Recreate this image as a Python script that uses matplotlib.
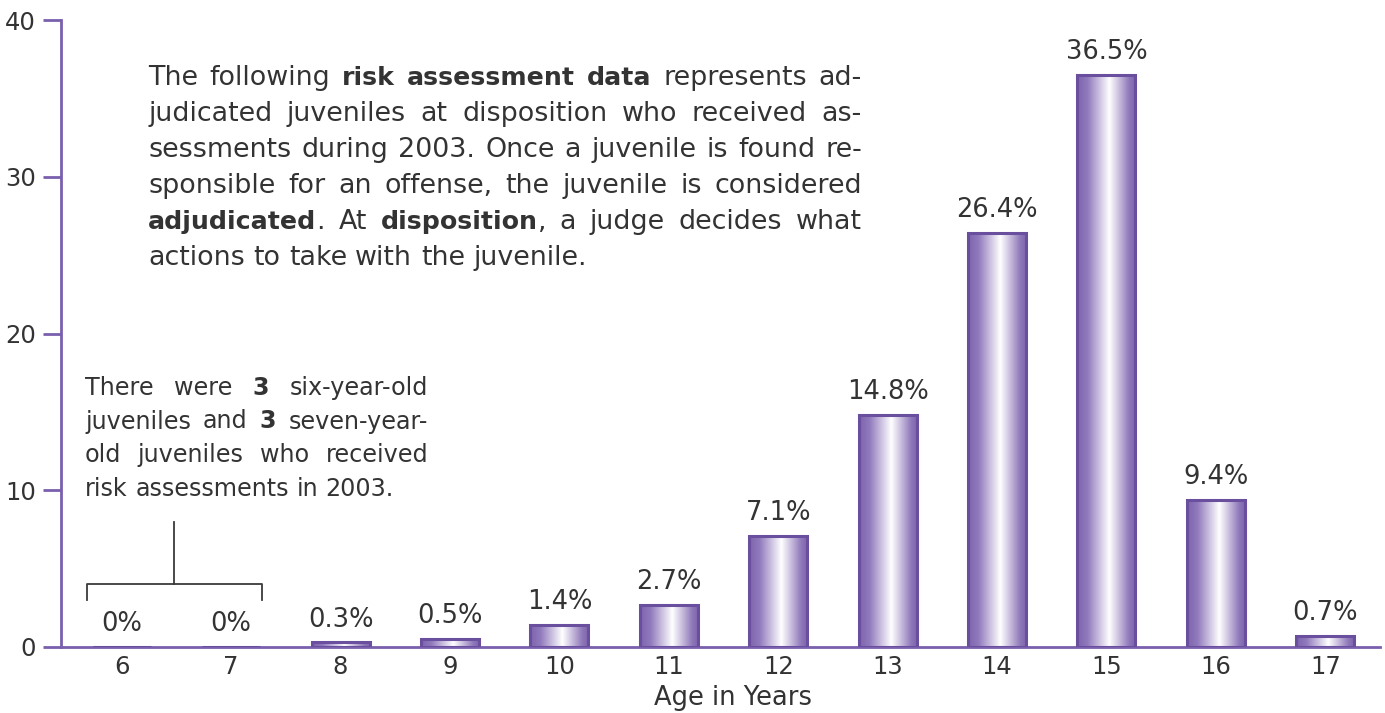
import numpy as np
import matplotlib
matplotlib.use("Agg")
import matplotlib.pyplot as plt
from matplotlib.colors import LinearSegmentedColormap

# ---- data -------------------------------------------------------------
ages = ["6", "7", "8", "9", "10", "11", "12", "13", "14", "15", "16", "17"]
percent = [0, 0, 0.3, 0.5, 1.4, 2.7, 7.1, 14.8, 26.4, 36.5, 9.4, 0.7]
bar_labels = ["0%", "0%", "0.3%", "0.5%", "1.4%", "2.7%", "7.1%", "14.8%",
              "26.4%", "36.5%", "9.4%", "0.7%"]
y_ticks = [0, 10, 20, 30, 40]

paragraph = [
    "The following **risk assessment data** represents ad-",
    "judicated juveniles at disposition who received as-",
    "sessments during 2003. Once a juvenile is found re-",
    "sponsible for an offense, the juvenile is considered",
    "**adjudicated**. At **disposition**, a judge decides what",
    "actions to take with the juvenile.",
]
note = [
    "There were **3** six-year-old",
    "juveniles and **3** seven-year-",
    "old juveniles who received",
    "risk assessments in 2003.",
]

# ---- style ------------------------------------------------------------
W, H, DPI = 1385, 713, 100
AXIS = "#7a5fae"
EDGE = "#6a4f9f"
TEXT = "#333333"
FONT = "DejaVu Sans"
plt.rcParams["font.family"] = [FONT]

fig = plt.figure(figsize=(W / DPI, H / DPI), dpi=DPI)
ax = fig.add_axes([61 / W, 1 - 647 / H, (1380 - 61) / W, (647 - 20) / H])

x = np.arange(len(ages))
bw = 0.53

grad = LinearSegmentedColormap.from_list(
    "bar", [(0.0, "#7d63ad"), (0.18, "#907abc"), (0.42, "#d6cde6"),
            (0.56, "#ffffff"), (0.70, "#d2c8e3"), (0.90, "#9079ba"),
            (1.0, "#7f64ae")])
gimg = np.linspace(0, 1, 256).reshape(1, -1)

bars = ax.bar(x, percent, width=bw, facecolor="none", edgecolor=EDGE,
              linewidth=2.2, zorder=3)
for rect, v in zip(bars, percent):
    if v <= 0:
        continue
    x0 = rect.get_x()
    im = ax.imshow(gimg, cmap=grad, aspect="auto", interpolation="bilinear",
                   extent=(x0, x0 + rect.get_width(), 0, v), zorder=2)
    im.set_clip_path(rect)

for xi, v, lab in zip(x, percent, bar_labels):
    ax.annotate(lab, (xi, v), xytext=(0, 7), textcoords="offset points",
                ha="center", va="bottom", fontsize=18.5, color=TEXT)

ax.set_xlim(-0.555, 11.5)
ax.set_ylim(0, 40)
ax.set_xticks(x)
ax.set_xticklabels(ages, fontsize=17.5, color=TEXT)
ax.set_yticks(y_ticks)
ax.set_yticklabels([str(t) for t in y_ticks], fontsize=17.5, color=TEXT)
ax.tick_params(axis="x", length=0, pad=6)
ax.tick_params(axis="y", length=13, width=2, color=AXIS, pad=5)
for s in ("top", "right"):
    ax.spines[s].set_visible(False)
for s in ("left", "bottom"):
    ax.spines[s].set_color(AXIS)
    ax.spines[s].set_linewidth(2)
ax.patch.set_alpha(0)

ax.set_xlabel("Age in Years", fontsize=18.5, color=TEXT, va="baseline")
ax.xaxis.set_label_coords((733 - 61) / (1380 - 61), -(705 - 647) / (647 - 20))

# bracket grouping ages 6 and 7
bk = dict(color="#3a3a3a", lw=1.3, clip_on=False, zorder=4)
ax.plot([-0.32, -0.32, 1.28, 1.28], [3.0, 4.0, 4.0, 3.0], **bk)
ax.plot([0.48, 0.48], [4.0, 8.0], **bk)

# ---- rich text with bold runs and justification ------------------------
renderer = fig.canvas.get_renderer()


def text_width(s, size, bold):
    t = fig.text(0, 0, s, fontsize=size, fontweight="bold" if bold else "normal")
    w = t.get_window_extent(renderer=renderer).width
    t.remove()
    return w


def parse(line):
    words = []
    current = []
    chunks = line.split("**")
    for ci, chunk in enumerate(chunks):
        b = ci % 2 == 1
        pieces = chunk.split(" ")
        for pi, p in enumerate(pieces):
            if pi > 0:
                if current:
                    words.append(current)
                current = []
            if p:
                current.append((p, b))
    if current:
        words.append(current)
    return words


def draw_block(lines, left, right, baselines, size, bold_size):
    space = text_width("a a", size, False) - text_width("aa", size, False)
    for li, (line, yb) in enumerate(zip(lines, baselines)):
        words = parse(line)
        sizes = [[bold_size if b else size for p, b in w] for w in words]
        widths = [[text_width(p, s, b) for (p, b), s in zip(w, ss)]
                  for w, ss in zip(words, sizes)]
        total = sum(sum(ws) for ws in widths)
        last = li == len(lines) - 1
        if not last and len(words) > 1:
            gap = (right - left - total) / (len(words) - 1)
        else:
            gap = space
        xp = left
        for w, ws, ss in zip(words, widths, sizes):
            for (p, b), pw, s in zip(w, ws, ss):
                fig.text(xp / W, 1 - yb / H, p, fontsize=s, color=TEXT,
                         fontweight="bold" if b else "normal",
                         ha="left", va="baseline")
                xp += pw
            xp += gap


draw_block(paragraph, 148, 862, [85, 121, 157, 193, 229, 265], 19.4, 18.2)
draw_block(note, 85, 428, [395, 428.5, 462, 495.5], 17.2, 17.2)

fig.savefig("out.png", dpi=DPI)
